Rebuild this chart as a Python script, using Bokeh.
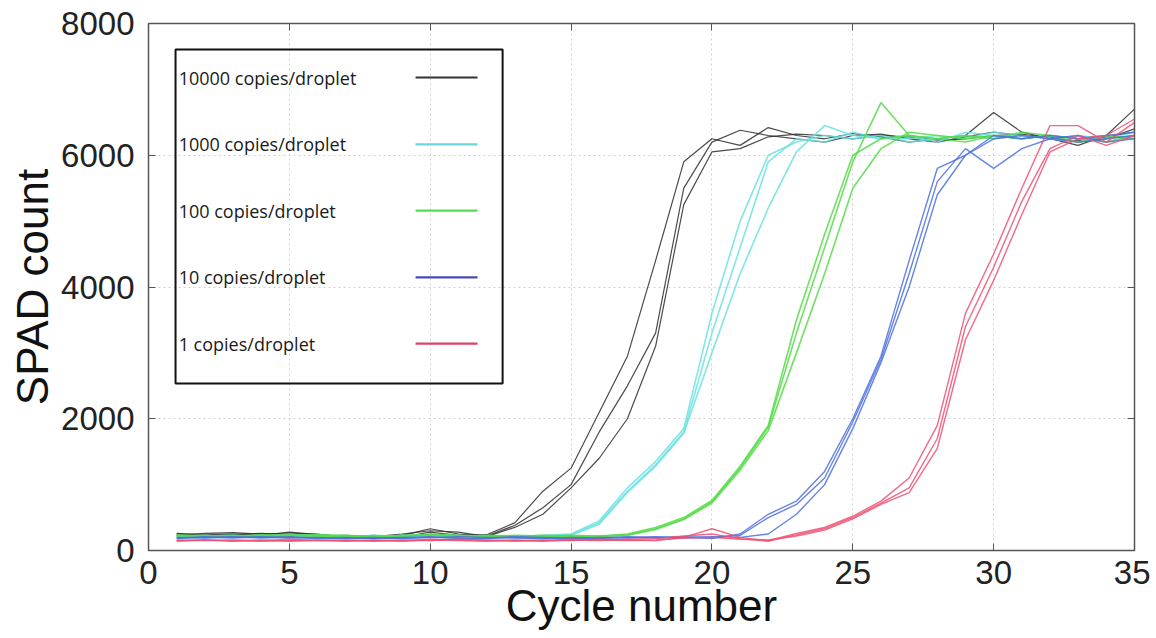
from bokeh.plotting import figure
from bokeh.models import Range1d, SingleIntervalTicker, LinearAxis, BoxAnnotation, ColumnDataSource
from bokeh.embed import file_html
from bokeh.resources import INLINE
from bokeh.core.properties import value

cycles = list(range(1, 36))

black_reps = [
    [260,240,250,230,280,240,210,230,200,280,230,240,420,900,1250,2100,2950,4400,5900,6250,6150,6420,6300,6250,6330,6280,6200,6250,6300,6650,6350,6250,6150,6300,6700],
    [230,260,270,250,260,250,200,190,230,330,250,220,380,650,1000,1800,2500,3300,5500,6200,6380,6300,6250,6200,6300,6320,6250,6200,6280,6350,6300,6280,6200,6250,6400],
    [250,220,240,260,240,220,230,210,250,300,280,210,350,550,950,1400,2000,3100,5250,6050,6100,6280,6320,6300,6250,6300,6280,6230,6250,6300,6320,6250,6220,6280,6350],
]
cyan_reps = [
    [200,220,230,210,240,220,200,230,210,250,220,200,210,230,250,450,950,1350,1850,3600,5000,6000,6200,6300,6250,6300,6200,6250,6300,6250,6300,6250,6200,6300,6250],
    [220,200,210,230,220,240,210,200,230,240,210,220,200,220,240,420,900,1300,1800,3300,4600,5900,6250,6200,6350,6250,6300,6200,6350,6300,6250,6300,6250,6200,6300],
    [210,230,200,220,250,210,220,210,220,230,230,210,220,210,230,400,880,1280,1780,3000,4200,5200,6050,6450,6300,6250,6250,6300,6250,6350,6300,6250,6300,6250,6350],
]
green_reps = [
    [230,210,220,240,230,210,220,200,230,240,220,210,230,220,210,220,250,350,500,760,1280,1900,3500,4800,6000,6250,6300,6250,6200,6300,6250,6300,6250,6200,6300],
    [220,230,210,220,240,230,210,220,210,250,230,220,210,230,220,210,240,330,480,740,1250,1870,3300,4600,5900,6800,6300,6250,6300,6250,6350,6300,6200,6250,6300],
    [240,220,230,210,220,240,230,210,220,230,210,230,220,210,230,220,230,320,470,720,1220,1820,3000,4200,5500,6100,6350,6300,6250,6300,6250,6300,6250,6300,6250],
]
blue_reps = [
    [180,200,190,210,200,180,190,200,180,200,190,180,200,190,180,200,190,210,200,180,250,550,750,1200,2000,2950,4400,5800,6000,6250,6300,6250,6200,6250,6300],
    [200,190,210,200,190,200,180,190,200,210,180,190,210,200,190,180,200,190,210,200,230,500,700,1100,1950,2900,4200,5600,6100,5800,6100,6250,6300,6200,6250],
    [190,210,200,190,210,190,200,180,190,200,210,200,190,180,200,190,210,200,190,210,200,250,550,1000,1850,2850,4000,5400,6000,6300,6250,6300,6250,6300,6350],
]
red_reps = [
    [150,160,140,150,170,150,140,160,150,170,160,150,140,160,150,170,160,150,200,330,200,150,260,350,520,750,1100,1900,3600,4500,5500,6450,6450,6200,6500],
    [160,150,160,140,150,160,150,140,160,150,170,160,150,140,160,150,170,180,220,250,180,140,240,330,500,720,950,1700,3400,4300,5300,6100,6300,6150,6300],
    [140,160,150,160,140,150,160,150,140,160,150,140,160,150,170,160,150,160,190,200,170,160,220,310,480,700,880,1550,3200,4100,5100,6050,6250,6300,6550],
]

series_labels = ["10000 copies/droplet", "1000 copies/droplet", "100 copies/droplet",
                 "10 copies/droplet", "1 copies/droplet"]
series_data = [black_reps, cyan_reps, green_reps, blue_reps, red_reps]
line_colors = ["#2b2b2b", "#6ae2e2", "#55dc48", "#4a6fe0", "#ee4f72"]
legend_colors = ["#333333", "#6cd6e0", "#55dd55", "#4a4ab8", "#e0406a"]
line_widths = [1.2, 1.6, 1.6, 1.4, 1.4]

x_ticks_interval = 5
y_ticks_interval = 2000

p = figure(width=1150, height=636, output_backend="svg", toolbar_location=None,
           x_range=Range1d(0, 35), y_range=Range1d(0, 8000),
           min_border_left=148, min_border_right=16, min_border_top=23, min_border_bottom=86)
p.background_fill_color = "white"
p.border_fill_color = "white"
p.outline_line_color = "#555555"
p.outline_line_width = 1.5

FONT = "Liberation Sans"
for ax in (p.xaxis[0], p.yaxis[0]):
    ax.major_label_text_font = FONT
    ax.major_label_text_font_size = "33px"
    ax.major_label_text_color = "#222222"
    ax.axis_label_text_font = FONT
    ax.axis_label_text_font_size = "44px"
    ax.axis_label_text_font_style = "normal"
    ax.axis_label_text_color = "#111111"
    ax.axis_line_color = "#555555"
    ax.major_tick_in = 7
    ax.major_tick_out = 0
    ax.minor_tick_line_color = None
    ax.major_tick_line_color = "#555555"

p.xaxis[0].ticker = SingleIntervalTicker(interval=x_ticks_interval)
p.yaxis[0].ticker = SingleIntervalTicker(interval=y_ticks_interval)
p.xaxis[0].axis_label = "Cycle number"
p.yaxis[0].axis_label = "SPAD count"
p.xaxis[0].major_label_standoff = 6
p.xaxis[0].axis_label_standoff = -6
p.yaxis[0].major_label_standoff = 10
p.yaxis[0].axis_label_standoff = 1

for loc, iv in (("above", x_ticks_interval), ("right", y_ticks_interval)):
    ax = LinearAxis(ticker=SingleIntervalTicker(interval=iv))
    ax.major_label_text_font_size = "1px"
    ax.major_label_text_color = None
    ax.major_label_standoff = 0
    ax.major_tick_in = 7
    ax.major_tick_out = 0
    ax.minor_tick_line_color = None
    ax.axis_line_color = "#555555"
    ax.major_tick_line_color = "#555555"
    p.add_layout(ax, loc)

p.grid.grid_line_color = "#d2d2d2"
p.grid.grid_line_dash = "2 3"
p.grid.grid_line_width = 1

for reps, col, lw in zip(series_data, line_colors, line_widths):
    for rep in reps:
        p.line(cycles, rep, line_color=col, line_width=lw, line_alpha=0.85)

# legend (label first, then sample line, as in the reference)
leg_left, leg_right, leg_top, leg_bottom = 0.96, 12.57, 7605, 2535
leg_ys = [7180, 6165, 5160, 4145, 3140]
p.add_layout(BoxAnnotation(left=leg_left, right=leg_right, top=leg_top, bottom=leg_bottom,
                           fill_alpha=0, line_color="#111111", line_alpha=1.0, line_width=2))
src = ColumnDataSource(dict(x=[1.07] * 5, y=leg_ys, t=series_labels,
                            x0=[9.48] * 5, x1=[11.68] * 5, c=legend_colors))
p.text(x="x", y="y", text="t", source=src, text_font=value("Open Sans"),
       text_font_size="18px", text_baseline="middle", text_align="left", text_color="#1a1a1a")
p.segment(x0="x0", y0="y", x1="x1", y1="y", source=src, line_color="c", line_width=2.2)

open("out.html", "w").write(file_html(p, INLINE))
